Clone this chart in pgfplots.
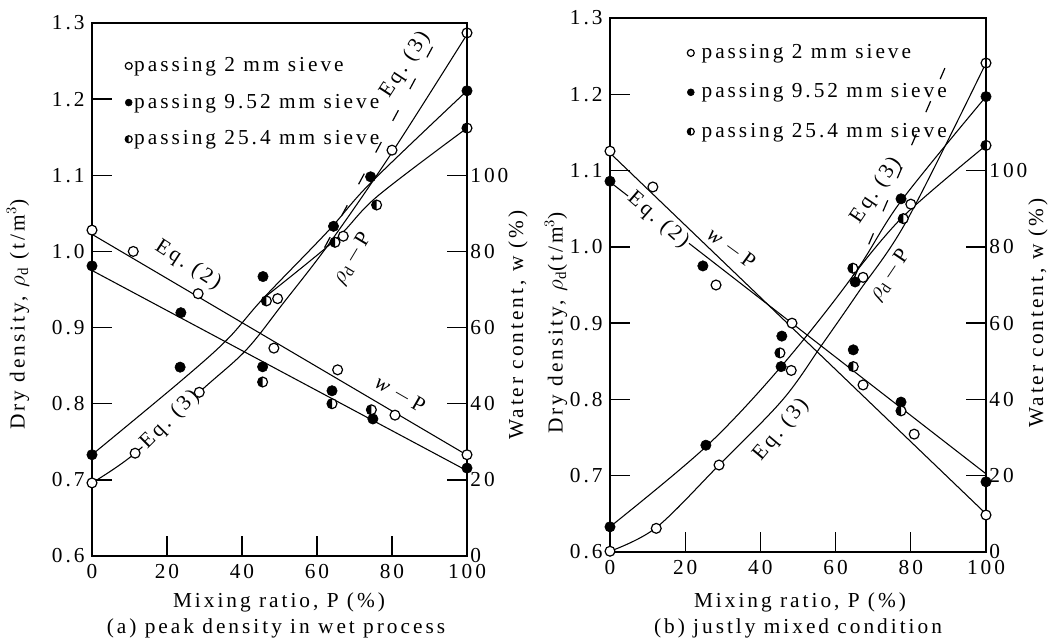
\documentclass[border=0pt]{standalone}
\usepackage{fontspec}
\setmainfont{Liberation Serif}[LetterSpace=14]
\usepackage{pgfplots}
\pgfplotsset{compat=1.18}
\newcommand{\chfont}{\fontsize{16pt}{19pt}\selectfont}
\tikzset{annot/.style={font=\chfont, inner sep=0pt}}
\pgfdeclareplotmark{lefthalf}{%
  \pgfpathcircle{\pgfpointorigin}{\pgfplotmarksize}%
  \pgfsetfillcolor{white}%
  \pgfusepathqfillstroke
  \pgfpathmoveto{\pgfqpoint{0pt}{\pgfplotmarksize}}%
  \pgfpatharc{90}{270}{\pgfplotmarksize}%
  \pgfpathclose
  \pgfsetfillcolor{black}%
  \pgfusepathqfill
}
\pgfplotsset{
  mainax/.style={
    scale only axis, anchor=south west,
    xmin=0, xmax=100, ymin=0.6, ymax=1.3,
    xtick={0,20,40,60,80,100}, xticklabels={0,20,40,60,80,100},
    ytick={0.6,0.7,0.8,0.9,1.0,1.1,1.2,1.3},
    yticklabels={0.6,0.7,0.8,0.9,1.0,1.1,1.2,1.3},
    xtick pos=bottom, ytick pos=left,
    tick align=inside, major tick length=15pt,
    every tick/.style={black, line width=1pt},
    axis line style={line width=1pt},
    tick label style={font=\chfont},
    xticklabel style={yshift=-1pt},
    clip=false,
    legend style={draw=none, fill=none, font=\chfont, anchor=north west,
      row sep=11.5pt, inner sep=0pt, nodes={inner sep=1.5pt}},
    legend cell align=left,
    legend image code/.code={\draw[##1, mark size=2.6pt] plot coordinates {(0.1cm,0cm)};},
  },
  rightax/.style={
    scale only axis, anchor=south west,
    xmin=0, xmax=100, ymin=0, ymax=140,
    axis x line=none, axis y line*=right,
    ytick={0,20,40,60,80,100}, yticklabels={0,20,40,60,80,100},
    tick align=inside, major tick length=15pt,
    every tick/.style={black, line width=1pt},
    axis line style={line width=1pt},
    tick label style={font=\chfont},
    yticklabel style={xshift=-3pt},
    clip=false,
  },
  openm/.style={only marks, mark=*, mark size=3.7pt, mark options={fill=white, draw=black, line width=0.9pt}},
  fillm/.style={only marks, mark=*, mark size=3.9pt, mark options={fill=black, draw=black}},
  halfm/.style={only marks, mark=lefthalf, mark size=3.7pt, mark options={draw=black, line width=0.9pt}},
  fitline/.style={no marks, black, line width=0.8pt, smooth, tension=0.55},
  eqdash/.style={no marks, black, line width=0.9pt, dash pattern=on 9pt off 18pt},
}
\begin{document}
\chfont
\begin{tikzpicture}
\useasboundingbox (0,0) rectangle (793.5pt,-480.75pt);
% ================= panel (a) =================
\begin{axis}[mainax, at={(69pt,-417pt)}, width=281.25pt, height=399.75pt,
  legend style={at={(0.088,0.94)}}]
\addlegendimage{openm}\addlegendentry{passing 2 mm sieve}
\addlegendimage{fillm}\addlegendentry{passing 9.52 mm sieve}
\addlegendimage{halfm}\addlegendentry{passing 25.4 mm sieve}
% fitted density curves
\addplot[fitline] coordinates {(0,0.696) (11.5,0.735) (28.6,0.815) (41,0.870) (51,0.932) (63.5,1.012) (80,1.130) (100,1.285)};
\addplot[fitline] coordinates {(0,0.733) (23.5,0.829) (36,0.884) (45.6,0.938) (63,1.027) (74.3,1.090) (100,1.211)};
\addplot[fitline] coordinates {(45.6,0.938) (64.8,1.015) (76,1.072) (100,1.162)};
\addplot[eqdash] coordinates {(62,1.005) (91.5,1.275)};
% density data
\addplot[openm] coordinates {(0,0.696) (11.5,0.735) (28.6,0.815) (49.5,0.938) (67,1.020) (80,1.133) (100,1.287)};
\addplot[fillm] coordinates {(0,0.733) (23.5,0.848) (45.6,0.967) (64.4,1.033) (74.3,1.098) (100,1.211)};
\addplot[halfm] coordinates {(46.5,0.935) (64.8,1.012) (75.9,1.061) (100,1.162)};
\node[annot, rotate=-33] at (axis cs:25.6,0.982) {Eq.\ (2)};
\node[annot, rotate=-30] at (axis cs:82.1,0.812) {\textit{w}\,$-$\,P};
\node[annot, rotate=45, fill=white, inner sep=1pt] at (axis cs:20.8,0.779) {Eq.\ (3)};
\node[annot, rotate=59] at (axis cs:69.5,0.990) {$\rho_{\mathrm{d}}$\,$-$\,P};
\node[annot, rotate=57] at (axis cs:83.5,1.245) {Eq.\ (3)};
\end{axis}
\begin{axis}[rightax, at={(69pt,-417pt)}, width=281.25pt, height=399.75pt]
\addplot[fitline] coordinates {(0,84.5) (100,26.5)};
\addplot[fitline] coordinates {(0,75.0) (100,22.4)};
\addplot[openm] coordinates {(0,85.6) (11,80.0) (28.3,68.9) (48.5,54.6) (65.5,48.9) (80.8,37.0) (100,26.6)};
\addplot[fillm] coordinates {(0,76.2) (23.7,63.9) (45.5,49.7) (64,43.4) (74.9,36.0) (100,23.1)};
\addplot[halfm] coordinates {(45.5,45.7) (64,40.0) (74.5,38.4)};
\end{axis}
% ================= panel (b) =================
\begin{axis}[mainax, at={(457.5pt,-414pt)}, width=282pt, height=400.5pt,
  legend style={at={(0.205,0.955)}, row sep=13.5pt}]
\addlegendimage{openm}\addlegendentry{\hspace{4pt}passing 2 mm sieve}
\addlegendimage{fillm}\addlegendentry{\hspace{4pt}passing 9.52 mm sieve}
\addlegendimage{halfm}\addlegendentry{\hspace{4pt}passing 25.4 mm sieve}
\addplot[fitline] coordinates {(0,0.601) (12.3,0.632) (29,0.714) (46,0.800) (56.7,0.874) (66,0.940) (79,1.035) (100,1.241)};
\addplot[fitline] coordinates {(0,0.633) (25.5,0.738) (45.5,0.843) (64.6,0.962) (77.4,1.060) (100,1.197)};
\addplot[fitline] coordinates {(64.6,0.962) (78,1.040) (100,1.133)};
\addplot[eqdash] coordinates {(65,0.960) (91.5,1.262)};
\addplot[openm] coordinates {(0,0.601) (12.3,0.631) (29,0.714) (48.2,0.838) (67.3,0.960) (80,1.056) (100,1.241)};
\addplot[fillm] coordinates {(0,0.633) (25.5,0.740) (45.5,0.843) (65.2,0.954) (77.4,1.063) (100,1.197)};
\addplot[halfm] coordinates {(45.2,0.861) (64.6,0.972) (78,1.037) (100,1.133)};
\node[annot, rotate=56] at (axis cs:74.5,0.962) {$\rho_{\mathrm{d}}$\,$-$\,P};
\node[annot, rotate=56] at (axis cs:70.7,1.074) {Eq.\ (3)};
\node[annot, rotate=50] at (axis cs:45.5,0.760) {Eq.\ (3)};
\end{axis}
\begin{axis}[rightax, at={(457.5pt,-414pt)}, width=282pt, height=400.5pt]
\addplot[fitline] coordinates {(0,104.6) (100,10.0)};
\addplot[fitline] coordinates {(0,97.0) (100,20.5)};
\addplot[openm] coordinates {(0,105.1) (11.4,95.7) (28.2,70.0) (48.4,60.0) (67.3,43.8) (80.9,30.9) (100,9.7)};
\addplot[fillm] coordinates {(0,97.2) (24.7,75.0) (45.7,56.6) (64.7,53.0) (77.4,39.3) (100,18.4)};
\addplot[halfm] coordinates {(64.7,48.6) (77.4,37.0)};
\node[annot, rotate=-41, fill=white, inner sep=1pt] at (axis cs:12.8,87.0) {Eq.\ (2)};
\node[annot, rotate=-36] at (axis cs:32.2,79.6) {\textit{w}\,$-$\,P};
\end{axis}
% ================= labels =================
\node[rotate=90] at (13.5pt,-236pt) {Dry density, $\rho_{\mathrm{d}}$ (t/m$^3$)};
\node[rotate=90] at (388.5pt,-243.75pt) {Water content, w (\%)};
\node at (209.25pt,-451.5pt) {Mixing ratio, P (\%)};
\node at (207pt,-471pt) {(a) peak density in wet process};
\node[rotate=90] at (417pt,-242.25pt) {Dry density, $\rho_{\mathrm{d}}$(t/m$^3$)};
\node[rotate=90] at (778.5pt,-234.75pt) {Water content, w (\%)};
\node at (600pt,-451.5pt) {Mixing ratio, P (\%)};
\node at (598.5pt,-471pt) {(b) justly mixed condition};
\end{tikzpicture}
\end{document}
